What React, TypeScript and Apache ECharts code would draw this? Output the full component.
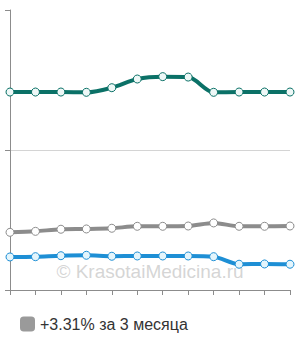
import React, { useEffect, useRef } from "react";
import * as echarts from "echarts";

const categories = ["1", "2", "3", "4", "5", "6", "7", "8", "9", "10", "11", "12"];
const tealValues = [141.4, 141.4, 141.4, 141.2, 144.5, 150.7, 152.4, 152.1, 141.2, 141.4, 141.4, 141.4];
const grayValues = [41.2, 41.9, 43.4, 43.6, 44.1, 45.5, 45.5, 45.7, 47.9, 45.5, 45.5, 45.7];
const blueValues = [23.6, 23.8, 24.5, 24.8, 24.1, 24.3, 24.3, 24.3, 23.8, 18.4, 18.6, 18.4];
const legendLabel = "+3.31% за 3 месяца";
const watermark = "© KrasotaiMedicina.ru";

export default function App() {
  const ref = useRef<HTMLDivElement>(null);
  useEffect(() => {
    if (!ref.current) return;
    const chart = echarts.init(ref.current, undefined, { renderer: "svg" });
    const mkSeries = (name: string, data: number[], color: string, fill: string, z: number) => ({
      name,
      type: "line",
      data,
      smooth: 0.3,
      symbol: "circle",
      symbolSize: 8,
      z,
      lineStyle: { color, width: 4 },
      itemStyle: { color: fill, borderColor: color, borderWidth: 1 },
    });
    chart.setOption({
      animation: false,
      grid: { left: 10, right: 10, top: 10, bottom: 50 },
      legend: {
        data: [{ name: legendLabel, itemStyle: { color: "#9a9a9a", borderWidth: 0 } }],
        left: 15,
        top: 311,
        icon: "roundRect",
        itemWidth: 15,
        itemHeight: 15,
        itemGap: 10,
        textStyle: { fontFamily: "Liberation Sans, Arial", fontSize: 16, color: "#333" },
      },
      graphic: [
        {
          type: "text",
          left: "center",
          top: 262,
          z: 0,
          style: {
            text: watermark,
            fontFamily: "Liberation Sans, Arial",
            fontSize: 19,
            fill: "rgba(195,195,195,0.7)",
          },
        },
      ],
      xAxis: {
        type: "category",
        data: categories,
        boundaryGap: false,
        axisLine: { lineStyle: { color: "#8c8c8c", width: 1 } },
        axisTick: { show: true, length: 5, lineStyle: { color: "#8c8c8c" } },
        axisLabel: { show: false },
        splitLine: { show: false },
      },
      yAxis: {
        type: "value",
        min: 0,
        max: 200,
        interval: 100,
        axisLine: { show: true, lineStyle: { color: "#8c8c8c", width: 1 } },
        axisTick: { show: true, length: 5, lineStyle: { color: "#8c8c8c" } },
        axisLabel: { show: false },
        splitLine: { show: true, lineStyle: { color: ["rgba(0,0,0,0)", "#d4d4d4", "rgba(0,0,0,0)"], width: 1 } },
      },
      series: [
        mkSeries("teal", tealValues, "#0b7167", "#eef8f7", 3),
        mkSeries(legendLabel, grayValues, "#8c8c8c", "#ffffff", 3),
        mkSeries("blue", blueValues, "#1e8fd5", "#e4f5fc", 3),
      ],
    });
    return () => chart.dispose();
  }, []);
  return (
    <div
      ref={ref}
      style={{ position: "fixed", left: 0, top: 0, width: 300, height: 340, background: "#fff" }}
    />
  );
}
